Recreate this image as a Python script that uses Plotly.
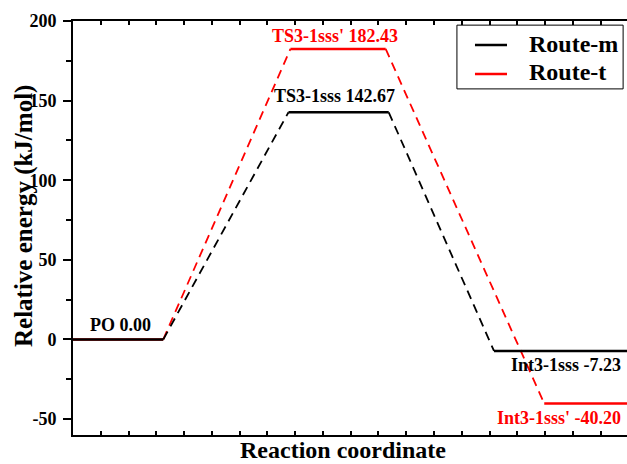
import plotly.graph_objects as go

# Energy profile data (kJ/mol)
route_m_names = ["PO", "TS3-1sss", "Int3-1sss"]
route_t_names = ["PO", "TS3-1sss'", "Int3-1sss'"]
route_m_energy = [0.00, 142.67, -7.23]
route_t_energy = [0.00, 182.43, -40.20]
y_tick_values = [-50, 0, 50, 100, 150, 200]
y_tick_text = ["-50", "0", "50", "100", "150", "200"]

# Horizontal extent of each level along the reaction coordinate
route_m_spans = [(0.0, 3.25), (7.76, 11.37), (15.16, 20.5)]
route_t_spans = [(0.0, 3.25), (7.83, 11.26), (16.97, 20.5)]

FONT = "Liberation Serif"
BLACK = "#000000"
RED = "#ff0000"


def level_xy(spans, energies):
    xs, ys = [], []
    for (a, b), e in zip(spans, energies):
        xs += [a, b, None]
        ys += [e, e, None]
    return xs, ys


def connector_xy(spans, energies):
    xs, ys = [], []
    for i in range(len(spans) - 1):
        xs += [spans[i][1], spans[i + 1][0], None]
        ys += [energies[i], energies[i + 1], None]
    return xs, ys


fig = go.Figure()

routes = [
    ("Route-t", route_t_spans, route_t_energy, RED),
    ("Route-m", route_m_spans, route_m_energy, BLACK),
]
for name, spans, energies, color in routes:
    cx, cy = connector_xy(spans, energies)
    fig.add_trace(go.Scatter(x=cx, y=cy, mode="lines", name=name,
                             line=dict(color=color, width=1.8, dash="9px,6px"),
                             showlegend=False, hoverinfo="skip"))
    lx, ly = level_xy(spans, energies)
    fig.add_trace(go.Scatter(x=lx, y=ly, mode="lines", name=name,
                             line=dict(color=color, width=2.6),
                             showlegend=False, hoverinfo="skip"))

label_font = dict(family=FONT, size=18, weight="bold")

# Level labels
fig.add_annotation(x=1.7, y=route_m_energy[0], yshift=14, showarrow=False,
                   text=f"{route_m_names[0]} {route_m_energy[0]:.2f}",
                   font=dict(label_font, color=BLACK), xanchor="center", yanchor="middle")
fig.add_annotation(x=9.42, y=route_t_energy[1], yshift=13, showarrow=False,
                   text=f"{route_t_names[1]} {route_t_energy[1]:.2f}",
                   font=dict(label_font, color=RED), xanchor="center", yanchor="middle")
fig.add_annotation(x=9.42, y=route_m_energy[1], yshift=16, showarrow=False,
                   text=f"{route_m_names[1]} {route_m_energy[1]:.2f}",
                   font=dict(label_font, color=BLACK), xanchor="center", yanchor="middle")
fig.add_annotation(x=19.82, y=route_m_energy[2], yshift=-14, showarrow=False,
                   text=f"{route_m_names[2]} {route_m_energy[2]:.2f}",
                   font=dict(label_font, color=BLACK), xanchor="right", yanchor="middle")
fig.add_annotation(x=19.82, y=route_t_energy[2], yshift=-15, showarrow=False,
                   text=f"{route_t_names[2]} {route_t_energy[2]:.2f}",
                   font=dict(label_font, color=RED), xanchor="right", yanchor="middle")

# Axis titles
fig.add_annotation(xref="paper", yref="paper", x=-0.0884, y=0.529, showarrow=False,
                   text="Relative energy (kJ/mol)", textangle=-90,
                   font=dict(family=FONT, size=25, weight="bold", color=BLACK),
                   xanchor="center", yanchor="middle")
fig.add_annotation(xref="paper", yref="paper", x=0.487, y=-0.0362, showarrow=False,
                   text="Reaction coordinate",
                   font=dict(family=FONT, size=24, weight="bold", color=BLACK),
                   xanchor="center", yanchor="middle")

# Legend box
fig.add_shape(type="rect", xref="paper", yref="paper", x0=0.693, x1=0.993,
              y0=0.836, y1=0.990, line=dict(color=BLACK, width=1), fillcolor="white")
legend_rows = [("Route-m", BLACK, 0.942, 0.9444), ("Route-t", RED, 0.872, 0.8768)]
for name, color, ly, ty in legend_rows:
    fig.add_shape(type="line", xref="paper", yref="paper", x0=0.7256, x1=0.7834,
                  y0=ly, y1=ly, line=dict(color=color, width=2.6))
    fig.add_annotation(xref="paper", yref="paper", x=0.8195, y=ty, showarrow=False,
                       text=name, font=dict(family=FONT, size=24, weight="bold", color=BLACK),
                       xanchor="left", yanchor="middle")

fig.update_xaxes(range=[0, 19.95], showline=True, linewidth=2, linecolor=BLACK,
                 mirror="ticks", ticks="inside", ticklen=4, tickwidth=2, tickcolor=BLACK,
                 dtick=1, tick0=0, showticklabels=False, showgrid=False, zeroline=False)
fig.update_yaxes(range=[-60, 200], showline=True, linewidth=2, linecolor=BLACK,
                 tickmode="array", tickvals=y_tick_values, ticktext=y_tick_text,
                 ticks="outside", ticklen=8,
                 tickwidth=2, tickcolor=BLACK, showgrid=False, zeroline=False,
                 ticklabelstandoff=3,
                 tickfont=dict(family=FONT, size=18, weight="bold", color=BLACK),
                 minor=dict(ticks="outside", ticklen=5, tickwidth=2, tickcolor=BLACK,
                            dtick=25, tick0=0, showgrid=False))

fig.update_layout(width=627, height=464, margin=dict(l=73, r=0, t=21, b=29),
                  plot_bgcolor="white", paper_bgcolor="white", showlegend=False)

fig.write_html("out.html")
